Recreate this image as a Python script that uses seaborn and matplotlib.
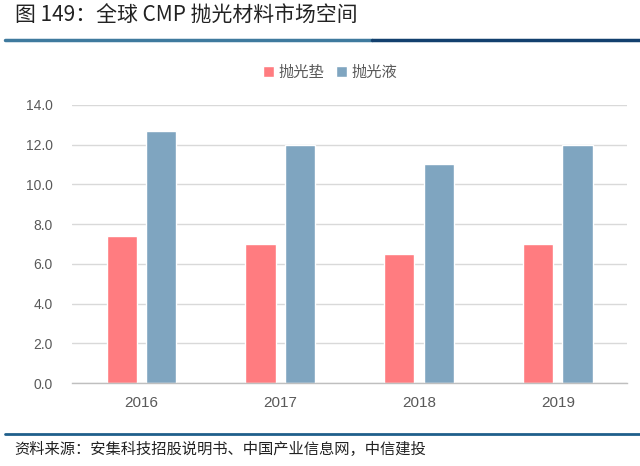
import pandas as pd
import seaborn as sns
import matplotlib.pyplot as plt
from matplotlib.lines import Line2D

years = ['2016', '2017', '2018', '2019']
pad = [7.4, 7.0, 6.5, 7.0]
liquid = [12.7, 12.0, 11.0, 12.0]
series_names = ['抛光垫', '抛光液']
colors = ['#FF7C80', '#7FA5C0']

df = pd.DataFrame({
    'year': years * 2,
    'value': pad + liquid,
    'kind': [series_names[0]] * 4 + [series_names[1]] * 4,
})

sns.set_theme(style='white')
plt.rcParams['font.family'] = ['Noto Sans CJK SC', 'DejaVu Sans']

fig = plt.figure(figsize=(6.4, 4.66), dpi=100)
ax = fig.add_axes([0.1125, 0.178, 0.8675, 0.597])

sns.barplot(data=df, x='year', y='value', hue='kind', palette=colors,
            width=0.565, gap=0.23, ax=ax, saturation=1)

ax.set_ylim(0, 14)
ax.set_yticks([0, 2, 4, 6, 8, 10, 12, 14])
ax.set_yticklabels([f'{v:.1f}' for v in ax.get_yticks()],
                   fontfamily='Liberation Sans', fontsize=10, color='#595959')
ax.set_xticklabels(years, fontfamily='Liberation Sans', fontsize=11, color='#595959')
ax.tick_params(axis='y', length=0, pad=14)
ax.tick_params(axis='x', length=0, pad=9)
ax.set_xlabel('')
ax.set_ylabel('')
ax.yaxis.grid(True, color='#D9D9D9', linewidth=1)
ax.set_axisbelow(True)
for s in ['left', 'right', 'top']:
    ax.spines[s].set_visible(False)
ax.spines['bottom'].set_color('#BFBFBF')
ax.spines['bottom'].set_linewidth(1)

leg = ax.legend(loc='center', bbox_to_anchor=(0.516, 0.845),
                bbox_transform=fig.transFigure, ncol=2, frameon=False,
                handlelength=0.7, handleheight=0.7, handletextpad=0.3,
                columnspacing=0.8, fontsize=11)
for t in leg.get_texts():
    t.set_color('#595959')

fig.text(0.023, 0.965, '图 149：全球 CMP 抛光材料市场空间', fontsize=15,
         color='#222222', va='center', ha='left')
fig.add_artist(Line2D([0.008, 0.582], [0.914, 0.914], color='#3F7A9E', linewidth=2.5))
fig.add_artist(Line2D([0.582, 1.0], [0.914, 0.914], color='#12406E', linewidth=2.5))
fig.add_artist(Line2D([0.008, 1.0], [0.069, 0.069], color='#1F5F8B', linewidth=2))
fig.text(0.023, 0.035, '资料来源：安集科技招股说明书、中国产业信息网，中信建投',
         fontsize=11, color='#222222', style='italic', va='center', ha='left')

fig.savefig('out.png', dpi=100)
